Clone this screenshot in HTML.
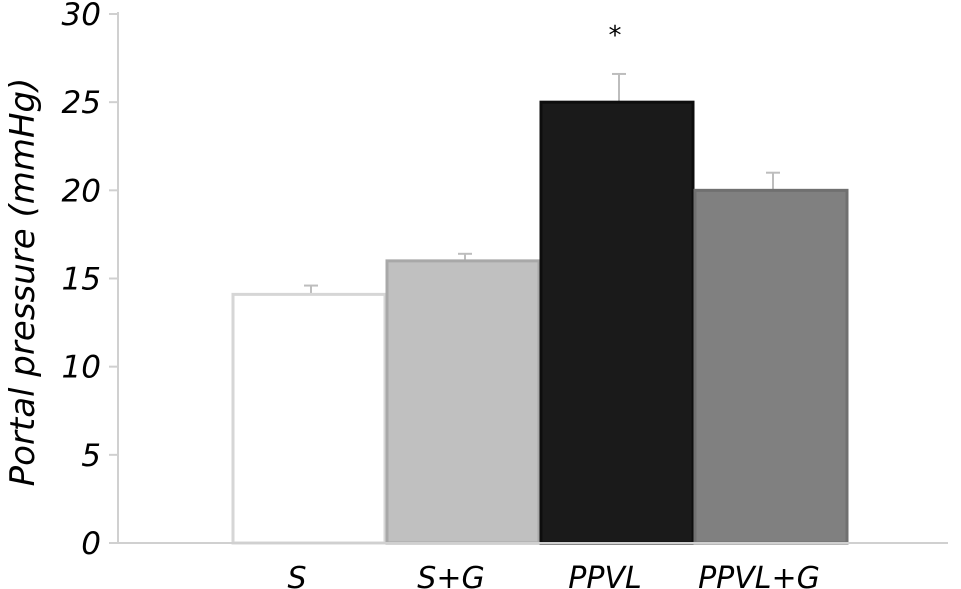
<!DOCTYPE html>
<html><head><meta charset="utf-8"><style>
html,body{margin:0;padding:0;background:#fff;}
svg{display:block;}
text{font-family:"DejaVu Sans","Liberation Sans",sans-serif;font-style:italic;fill:#000;}
</style></head><body>
<svg id="chart" width="961" height="589" viewBox="0 0 961 589"></svg>
<script>
const categories = ["S", "S+G", "PPVL", "PPVL+G"];
const values = [14.1, 16.0, 25.0, 20.0];
const errors = [0.5, 0.4, 1.6, 1.0];
const fills = ["#ffffff", "#c0c0c0", "#1a1a1a", "#808080"];
const strokes = ["#d6d6d6", "#a8a8a8", "#0d0d0d", "#707070"];
const yTicks = [0, 5, 10, 15, 20, 25, 30];
const signif = ["", "", "*", ""];

const svg = document.getElementById('chart');
const NS = 'http://www.w3.org/2000/svg';
const x0 = 118, xEnd = 948, y0 = 543, yTop = 14, yMax = 30;
const barStart = 232, barW = 154;
const yS = v => y0 - (v / yMax) * (y0 - yTop);
const xB = i => barStart + i * barW;
function mk(tag, attrs) { const e = document.createElementNS(NS, tag); for (const k in attrs) e.setAttribute(k, attrs[k]); svg.appendChild(e); return e; }

const ya = mk('line', {x1: x0, y1: yTop - 2, x2: x0, y2: y0, stroke: '#d0d0d0', 'stroke-width': 2});


yTicks.forEach(t => {
  const tk = mk('line', {x1: x0 - 9, y1: yS(t), x2: x0, y2: yS(t), stroke: '#d0d0d0', 'stroke-width': 2});
  
  
  const tl = mk('text', {x: 101, y: yS(t) + 11, 'text-anchor': 'end', 'font-size': 31});
  tl.textContent = t;
  
  
});
const yt = mk('text', {x: 0, y: 0, 'text-anchor': 'middle', 'font-size': 34, transform: 'translate(34,282) rotate(-90)'});
yt.textContent = 'Portal pressure (mmHg)';



categories.forEach((c, i) => {
  const x = xB(i), top = yS(values[i]);
  const et = yS(values[i] + errors[i]);
  const cx = x + barW / 2 + 2;
  const el = mk('line', {x1: cx, y1: et, x2: cx, y2: top, stroke: '#bdbdbd', 'stroke-width': 2});
  
  
  const ec = mk('line', {x1: cx - 7, y1: et, x2: cx + 7, y2: et, stroke: '#bdbdbd', 'stroke-width': 2});
  
  
  const r = mk('rect', {x: x + 1, y: top, width: barW - 2, height: y0 - top, fill: fills[i], stroke: strokes[i], 'stroke-width': 3});
  
  
  const lb = mk('text', {x: x + barW / 2 - 12, y: 588, 'text-anchor': 'middle', 'font-size': 30});
  lb.textContent = c;
  
  
  if (signif[i]) {
    const s = mk('text', {x: cx - 4, y: et - 30, 'text-anchor': 'middle', 'font-size': 26});
    s.textContent = signif[i];
    
    
  }
});
const xa = mk('line', {x1: x0 - 9, y1: y0, x2: xEnd, y2: y0, stroke: '#d0d0d0', 'stroke-width': 2});


</script>
</body></html>
